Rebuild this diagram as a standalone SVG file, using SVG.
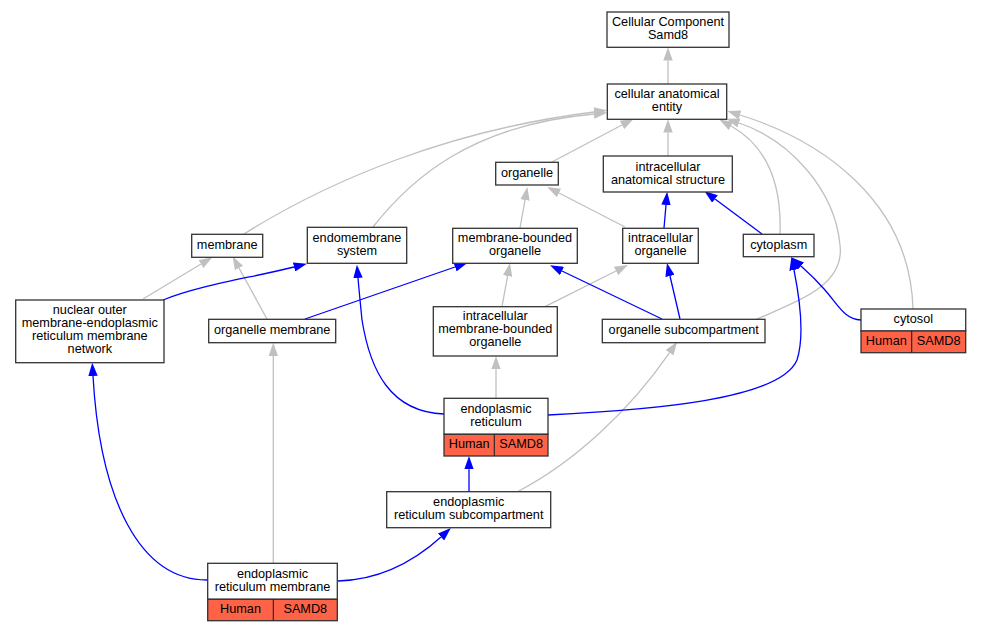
<svg xmlns="http://www.w3.org/2000/svg" width="981" height="632" viewBox="0 0 981 632">
<style>
.box{fill:#fff;stroke:#333;stroke-width:1.3}
.red{fill:#ff6347;stroke:#333;stroke-width:1.3}
.div{stroke:#222;stroke-width:1.1}
text{font-family:"Liberation Sans",Arial,sans-serif;font-size:12.7px;fill:#000;text-anchor:middle}
.g{fill:none;stroke:#c0c0c0;stroke-width:1.3}
.b{fill:none;stroke:#0000ff;stroke-width:1.3}
.g{marker-end:url(#ag)}
.b{marker-end:url(#ab)}
</style>
<defs>
<marker id="ag" markerUnits="userSpaceOnUse" markerWidth="13.3" markerHeight="9.4" refX="0" refY="4.7" orient="auto" viewBox="0 0 13.3 9.4"><path d="M0,0 L13.3,4.7 L0,9.4 z" fill="#c0c0c0"/></marker>
<marker id="ab" markerUnits="userSpaceOnUse" markerWidth="13.3" markerHeight="9.4" refX="0" refY="4.7" orient="auto" viewBox="0 0 13.3 9.4"><path d="M0,0 L13.3,4.7 L0,9.4 z" fill="#0000ff"/></marker>
</defs>
<rect width="981" height="632" fill="#fff"/>
<g id="edges">
<path class="g" d="M668,84 L668,60.6"/>
<path class="g" d="M668,156 L668,132.6"/>
<path class="g" d="M550,163 L622,125"/>
<path class="g" d="M244,234 C330,180 450,130 594,112"/>
<path class="g" d="M373,227 C410,180 470,125 594,114"/>
<path class="g" d="M780,234 C782,180 765,145 731,126"/>
<path class="g" d="M913,309 C910,200 820,140 740,115"/>
<path class="g" d="M755,320 C800,300 845,285 840,245 C835,190 790,140 739,123"/>
<path class="g" d="M520,228 L525,200"/>
<path class="g" d="M625,227 L559,193"/>
<path class="g" d="M143,299 L201,264"/>
<path class="g" d="M267,319 L239,268"/>
<path class="g" d="M502,306.7 L507.6,276"/>
<path class="g" d="M545,306.7 L616,271"/>
<path class="g" d="M496,398.3 L496,369.3"/>
<path class="g" d="M273.3,563.3 L273.3,356"/>
<path class="g" d="M517,492 C575,462 630,410 669.6,352.7"/>
<path class="b" d="M664,228 L666,205"/>
<path class="b" d="M762,234 L715,199"/>
<path class="b" d="M163,300 C200,285 250,278 294,267"/>
<path class="b" d="M305,319 L455,267"/>
<path class="b" d="M662,319 L562,271"/>
<path class="b" d="M680,319 L670,276"/>
<path class="b" d="M861,320 C845,320 838,305 825,290 C818,282 810,274 801,266"/>
<path class="b" d="M444,414 C390,412 370,370 362,320 C360,300 359,290 358,278"/>
<path class="b" d="M548,415 C650,410 780,400 797,360 C805,335 800,300 794,270"/>
<path class="b" d="M469,491.7 L469,469.3"/>
<path class="b" d="M338,581 C375,580 410,565 441,537"/>
<path class="b" d="M207,580 C140,580 100,500 93,376"/>
</g>
<g id="n_cc"><rect class="box" x="607" y="12" width="122" height="35.3"/><text x="668" y="26">Cellular Component</text><text x="668" y="39">Samd8</text></g>
<g id="n_cae"><rect class="box" x="607.3" y="84" width="119.4" height="35.3"/><text x="667" y="98.2">cellular anatomical</text><text x="667" y="111.2">entity</text></g>
<g id="n_ias"><rect class="box" x="603.3" y="156" width="129" height="36"/><text x="668" y="170.5">intracellular</text><text x="668" y="183.5">anatomical structure</text></g>
<g id="n_organelle"><rect class="box" x="495.7" y="162.3" width="62.6" height="22.7"/><text x="527" y="176.9">organelle</text></g>
<g id="n_membrane"><rect class="box" x="191.7" y="234.3" width="71" height="23"/><text x="227.2" y="249.2">membrane</text></g>
<g id="n_endo"><rect class="box" x="307.3" y="227.3" width="99.4" height="36"/><text x="357" y="241.8">endomembrane</text><text x="357" y="254.8">system</text></g>
<g id="n_mbo"><rect class="box" x="452.7" y="228.3" width="124.6" height="35"/><text x="515" y="242.3">membrane-bounded</text><text x="515" y="255.3">organelle</text></g>
<g id="n_io"><rect class="box" x="622.7" y="228.3" width="75.6" height="35"/><text x="660.5" y="242.3">intracellular</text><text x="660.5" y="255.3">organelle</text></g>
<g id="n_cytoplasm"><rect class="box" x="743.3" y="234.3" width="70.7" height="22.4"/><text x="778.7" y="248.8">cytoplasm</text></g>
<g id="n_nuclear"><rect class="box" x="15.7" y="300" width="148.3" height="62.7"/><text x="89.8" y="314.3">nuclear outer</text><text x="89.8" y="327.3">membrane-endoplasmic</text><text x="89.8" y="340.3">reticulum membrane</text><text x="89.8" y="353.3">network</text></g>
<g id="n_om"><rect class="box" x="208.7" y="319.3" width="127" height="23.4"/><text x="272.2" y="334">organelle membrane</text></g>
<g id="n_imbo"><rect class="box" x="433.3" y="306.7" width="124" height="49.3"/><text x="495.3" y="320.3">intracellular</text><text x="495.3" y="333.3">membrane-bounded</text><text x="495.3" y="346.3">organelle</text></g>
<g id="n_os"><rect class="box" x="602.3" y="319.3" width="162.7" height="23.4"/><text x="683.7" y="334">organelle subcompartment</text></g>
<g id="n_cytosol"><rect class="box" x="861" y="309" width="104.7" height="22"/><rect class="red" x="861" y="331" width="104.7" height="21.7"/><line class="div" x1="911.7" y1="331" x2="911.7" y2="352.7"/><text x="913.3" y="323">cytosol</text><text x="886.3" y="344.5">Human</text><text x="938.7" y="344.5">SAMD8</text></g>
<g id="n_er"><rect class="box" x="444" y="398.3" width="104" height="36"/><rect class="red" x="444" y="434.3" width="104" height="21.7"/><line class="div" x1="494.3" y1="434.3" x2="494.3" y2="456"/><text x="496" y="412.8">endoplasmic</text><text x="496" y="425.8">reticulum</text><text x="469.2" y="447.8">Human</text><text x="521.2" y="447.8">SAMD8</text></g>
<g id="n_ers"><rect class="box" x="386.7" y="491.7" width="164" height="36"/><text x="468.7" y="506.2">endoplasmic</text><text x="468.7" y="519.2">reticulum subcompartment</text></g>
<g id="n_erm"><rect class="box" x="207.7" y="563.3" width="129.6" height="36"/><rect class="red" x="207.7" y="599.3" width="129.6" height="21.4"/><line class="div" x1="273.3" y1="599.3" x2="273.3" y2="620.7"/><text x="272.5" y="577.8">endoplasmic</text><text x="272.5" y="590.8">reticulum membrane</text><text x="240.5" y="613.3">Human</text><text x="305.3" y="613.3">SAMD8</text></g>
</svg>
